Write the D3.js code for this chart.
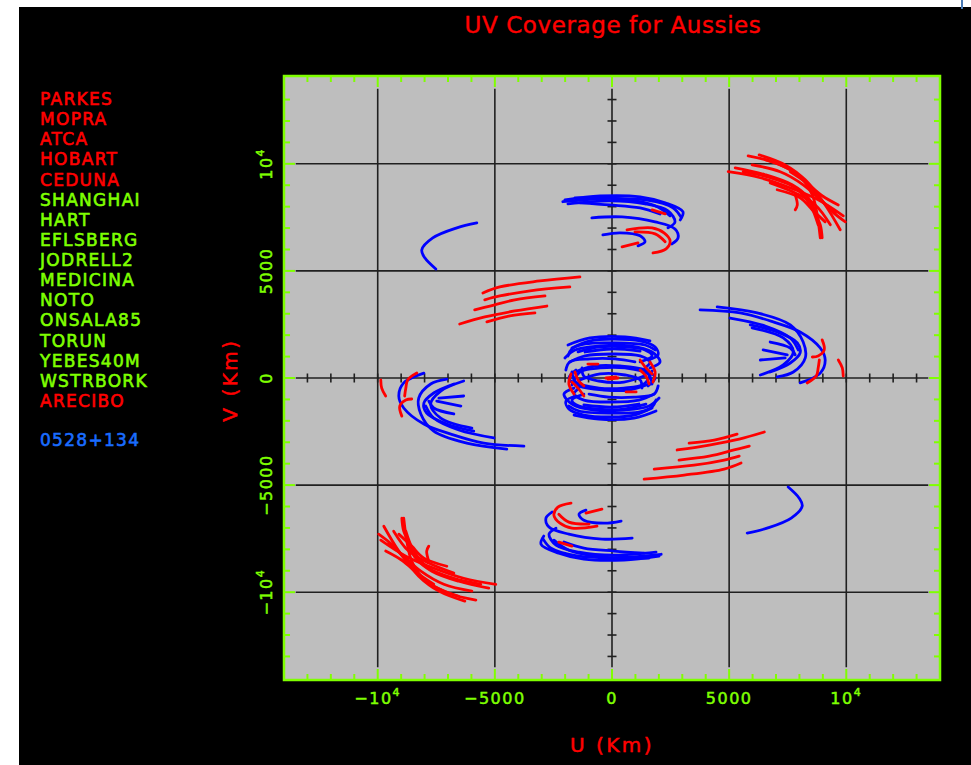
<!DOCTYPE html>
<html><head><meta charset="utf-8">
<script src="https://cdn.jsdelivr.net/npm/d3@7"></script>
<style>
body{margin:0;background:#fff}
svg{display:block}
text{font-family:"DejaVu Sans",sans-serif}
</style></head>
<body><svg id="c" width="971" height="765"></svg>
<script>
// ---------------- data ----------------
const chartTitle = "UV Coverage for Aussies";
const xTitle = "U (Km)";
const yTitle = "V (Km)";
const stations = ["PARKES","MOPRA","ATCA","HOBART","CEDUNA","SHANGHAI","HART","EFLSBERG","JODRELL2","MEDICINA","NOTO","ONSALA85","TORUN","YEBES40M","WSTRBORK","ARECIBO"];
const stationGroup = ["A","A","A","A","A","B","B","B","B","B","B","B","B","B","B","A"];
const sourceName = "0528+134";
const majorTicks = [-10000,-5000,0,5000,10000];
const tickLabels = ["−10|4","−5000","0","5000","10|4"];

// uv tracks in km (one half; the conjugate half is -u,-v)
const blueTracks = [
  [[-2010,8320],[-510,8500],[1200,8460],[2270,8180],[3030,7760],[2910,7380]],
  [[-1880,8130],[-90,8270],[1410,8130],[2390,7800],[2690,7290],[2390,7010]],
  [[-1580,8410],[340,8360],[1840,8040],[2480,7570]],
  [[-2100,8230],[-300,8380],[1500,8300],[2600,7950],[2950,7500]],
  [[-860,7480],[430,7520],[1840,7290],[2690,6960],[2820,6540],[2560,6260]],
  [[-390,6680],[340,6780],[1200,6640],[1410,6360],[1110,6170]],
  [[-1370,8180],[-90,8080],[1200,7940],[2050,7660]],
  [[-5770,7240],[-6620,7010],[-7650,6540],[-8120,5980],[-7990,5610],[-7520,5090]],
  [[3760,3180],[5470,3040],[6880,2620],[8030,2150],[8890,1400],[9100,840],[8890,230],[8030,-230]],
  [[4490,3320],[6200,3040],[7610,2480],[8160,1680],[8250,940],[7740,280],[7050,50]],
  [[5900,2480],[7050,2150],[7910,1640],[8030,1170],[7610,700],[6750,280]],
  [[5980,2340],[7310,1870],[7740,1220],[7310,610],[6330,140]],
  [[5040,2800],[6540,2430],[7610,1870],[7950,1310]],
  [[6750,1680],[7610,1400],[7820,1080]],
  [[6450,1310],[7480,1080]],
  [[6330,840],[7390,940]],
  [[-1710,1400],[-940,1730],[0,1820],[1200,1730],[1840,1450],[1970,1080],[1540,840]],
  [[-1450,1220],[-510,1450],[560,1450],[1410,1310],[1710,1030],[1200,750]],
  [[-1800,750],[-1150,1030],[0,1120],[1200,1030],[1620,750],[1410,470]],
  [[-1580,280],[-730,560],[340,560],[1410,370],[1840,0],[1540,-370]],
  [[-1370,-90],[-510,190],[560,140],[1200,-90],[1280,-470]],
  [[-1880,1030],[-1710,1360],[-1150,1590],[0,1640],[1410,1540],[1840,1310]],
  [[-1970,370],[-1800,750],[-940,890],[130,890],[980,750]],
  [[-2010,935],[-1580,1310],[-510,1500],[770,1500],[1710,1215],[2050,750],[1620,470]],
  [[-1710,-330],[-1370,280],[-510,470],[560,470],[1540,190],[1710,-280]],
  [[-1150,1215],[0,1355],[1200,1260]],
  [[-1880,1540],[-940,1870],[560,1920],[1620,1730]]
];
const redTracks = [
  [[4960,9630],[6330,9350],[7820,8790],[8800,8320],[9870,7570]],
  [[5810,10370],[6970,10050],[8030,9390],[8550,8550],[8890,6540]],
  [[6280,10420],[7390,9950],[8250,9250],[9100,8080],[9740,6920]],
  [[5600,9630],[6750,9350],[7820,8880],[8460,8080],[8800,7150]],
  [[7050,8790],[8030,8410],[8550,7850],[9100,7290]],
  [[6540,10190],[7610,9720],[8380,9020],[9320,7850],[9960,7290]],
  [[7610,9630],[8250,9160],[8970,8510],[9660,8080]],
  [[7820,8550],[7910,8080],[7820,7850]],
  [[8590,7850],[8890,7150],[8970,6540]],
  [[5260,9810],[6540,9490],[7690,9020],[8380,8410],[8680,7760]],
  [[5980,9950],[7180,9630],[8160,9020],[8890,8320],[9530,7710]],
  [[6750,9110],[7820,8640],[8680,8080],[9320,7150]],
  [[640,6920],[1710,7010],[2220,6780],[2480,6400],[2310,6030],[1750,5840]],
  [[430,6120],[1110,6310]],
  [[1710,7850],[2270,7660]],
  [[980,6820],[1840,6730],[2270,6360]],
  [[-1370,4720],[-3080,4530],[-4790,4250],[-5510,3970]],
  [[-1800,4250],[-3500,4070],[-4790,3830],[-5430,3650]],
  [[-2860,3830],[-4150,3650],[-5210,3360],[-5860,3180]],
  [[-2780,3360],[-4150,3130],[-5430,2850],[-6500,2520]],
  [[-3290,3040],[-4360,2900],[-5340,2620]],
  [[8970,1780],[9060,1310],[8800,1030],[8550,980]],
  [[8850,840],[8800,470],[8720,90],[8330,-230]],
  [[9660,840],[9830,470],[9870,90]],
  [[-1580,280],[-1450,-90],[-1200,-370]],
  [[1200,840],[1450,470],[1710,190]],
  [[-260,0],[170,50]],
  [[-1030,650],[-600,650]],
  [[1620,750],[1840,280],[1750,-190]]
];

// ---------------- drawing ----------------
const svg = d3.select("#c");
const W = 971, H = 765;
const plot = {l:284, r:940, t:76, b:680};
const x = d3.scaleLinear().domain([-14000,14000]).range([plot.l, plot.r]);
const y = d3.scaleLinear().domain([-14100,14100]).range([plot.b, plot.t]);

const RED = "#ff0000", GREEN = "#7fff00", BLUE = "#0000ff", LEGBLUE = "#1a6cff";
const groupColor = d3.scaleOrdinal().domain(["A","B"]).range([RED, GREEN]);

svg.append("rect").attr("x",0).attr("y",0).attr("width",W).attr("height",H).attr("fill","#fff");
svg.append("rect").attr("x",19).attr("y",7).attr("width",W-19).attr("height",H-7).attr("fill","#000");
svg.append("line").attr("x1",962).attr("x2",962).attr("y1",0).attr("y2",9).attr("stroke","#4a7ab5").attr("stroke-width",2);

// plot background
svg.append("rect").attr("x",plot.l).attr("y",plot.t).attr("width",plot.r-plot.l).attr("height",plot.b-plot.t).attr("fill","#bebebe");

svg.append("defs").append("clipPath").attr("id","clip").append("rect")
  .attr("x",plot.l).attr("y",plot.t).attr("width",plot.r-plot.l).attr("height",plot.b-plot.t);

// grid + central axes
const g = svg.append("g").attr("stroke","#202020").attr("stroke-width",1.6);
majorTicks.forEach(t => {
  g.append("line").attr("x1",x(t)).attr("x2",x(t)).attr("y1",y(13500)).attr("y2",y(-13500));
  g.append("line").attr("y1",y(t)).attr("y2",y(t)).attr("x1",x(-13500)).attr("x2",x(13500));
});
d3.range(-13000,13001,1000).filter(t=>t!==0).forEach(t => {
  g.append("line").attr("x1",x(t)).attr("x2",x(t)).attr("y1",y(0)-4.5).attr("y2",y(0)+4.5);
  g.append("line").attr("y1",y(t)).attr("y2",y(t)).attr("x1",x(0)-4.5).attr("x2",x(0)+4.5);
});

// tracks
const line = d3.line().x(d=>x(d[0])).y(d=>y(d[1])).curve(d3.curveCatmullRom.alpha(0.5));
const conj = tr => tr.map(p=>[-p[0],-p[1]]);
const tg = svg.append("g").attr("clip-path","url(#clip)").attr("fill","none")
  .attr("stroke-width",2.8).attr("stroke-linecap","round").attr("stroke-linejoin","round");
blueTracks.forEach(tr => {
  tg.append("path").attr("d",line(tr)).attr("stroke",BLUE);
  tg.append("path").attr("d",line(conj(tr))).attr("stroke",BLUE);
});
redTracks.forEach(tr => {
  tg.append("path").attr("d",line(tr)).attr("stroke",RED);
  tg.append("path").attr("d",line(conj(tr))).attr("stroke",RED);
});

// frame + frame ticks
const fg = svg.append("g").attr("stroke",GREEN).attr("stroke-width",2);
d3.range(-13000,13001,1000).forEach(t => {
  const len = (t % 5000 === 0) ? 11 : 6;
  fg.append("line").attr("x1",x(t)).attr("x2",x(t)).attr("y1",plot.b).attr("y2",plot.b-len);
  fg.append("line").attr("x1",x(t)).attr("x2",x(t)).attr("y1",plot.t).attr("y2",plot.t+len);
  fg.append("line").attr("y1",y(t)).attr("y2",y(t)).attr("x1",plot.l).attr("x2",plot.l+len);
  fg.append("line").attr("y1",y(t)).attr("y2",y(t)).attr("x1",plot.r).attr("x2",plot.r-len);
});
svg.append("rect").attr("x",plot.l).attr("y",plot.t).attr("width",plot.r-plot.l).attr("height",plot.b-plot.t)
  .attr("fill","none").attr("stroke",GREEN).attr("stroke-width",2.5);

// tick labels
function writeLabel(sel, lab){
  const parts = lab.split("|");
  sel.append("tspan").text(parts[0]);
  if(parts[1]) sel.append("tspan").attr("dy",-8).attr("font-size",11).text(parts[1]);
}
majorTicks.forEach((t,i) => {
  const tx = svg.append("text").attr("x",x(t)).attr("y",704).attr("text-anchor","middle")
    .attr("fill",GREEN).attr("stroke",GREEN).attr("stroke-width",0.5)
    .attr("font-size",16).attr("letter-spacing",1.5);
  writeLabel(tx, tickLabels[i]);
  const ty = svg.append("text").attr("transform",`translate(272,${y(t)}) rotate(-90)`).attr("text-anchor","middle")
    .attr("fill",GREEN).attr("stroke",GREEN).attr("stroke-width",0.5)
    .attr("font-size",16).attr("letter-spacing",1.5);
  writeLabel(ty, tickLabels[i]);
});

// titles
svg.append("text").attr("x",613).attr("y",33).attr("text-anchor","middle").attr("fill",RED)
  .attr("stroke",RED).attr("stroke-width",0.4)
  .attr("font-size",23).attr("letter-spacing",0.6).text(chartTitle);
svg.append("text").attr("x",612).attr("y",752).attr("text-anchor","middle").attr("fill",RED)
  .attr("stroke",RED).attr("stroke-width",0.5)
  .attr("font-size",20).attr("letter-spacing",2.5).text(xTitle);
svg.append("text").attr("transform","translate(237,380) rotate(-90)").attr("text-anchor","middle").attr("fill",RED)
  .attr("stroke",RED).attr("stroke-width",0.5)
  .attr("font-size",20).attr("letter-spacing",2.5).text(yTitle);

// legend
const lg = svg.append("g").attr("font-size",17).attr("letter-spacing",1.3).attr("stroke-width",0.6);
stations.forEach((s,i) => {
  const c = groupColor(stationGroup[i]);
  lg.append("text").attr("x",40).attr("y",105 + i*20.13).attr("fill",c).attr("stroke",c).text(s);
});
lg.append("text").attr("x",40).attr("y",446).attr("fill",LEGBLUE).attr("stroke",LEGBLUE).text(sourceName);
</script></body></html>
